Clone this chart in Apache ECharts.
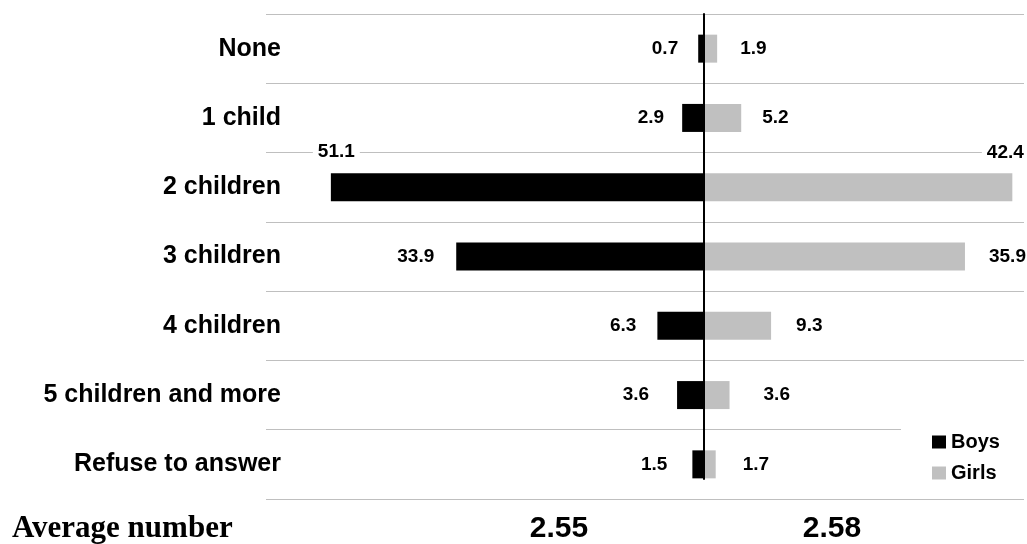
<!DOCTYPE html>
<html>
<head>
<meta charset="utf-8">
<script src="https://cdn.jsdelivr.net/npm/echarts@6/dist/echarts.min.js"></script>
<style>
  html, body { margin: 0; padding: 0; background: #fff; }
  #chart { width: 1027px; height: 544px; }
</style>
</head>
<body>
<div id="chart"></div>
<script>
// data
const categories = ['None', '1 child', '2 children', '3 children', '4 children', '5 children and more', 'Refuse to answer'];
const boys = [0.7, 2.9, 51.1, 33.9, 6.3, 3.6, 1.5];
const girls = [1.9, 5.2, 42.4, 35.9, 9.3, 3.6, 1.7];
const averageTitle = 'Average number';
const averageBoys = 2.55;
const averageGirls = 2.58;

// label gaps, px (hand placed in the original)
const boysGap = [20, 18, 0, 22, 21, 28, 25];
const girlsGap = [23, 21, 0, 24, 25, 34, 27];

const sans = '"Liberation Sans", Arial, sans-serif';
const serif = '"Liberation Serif", "Times New Roman", serif';
const valueLabel = { fontFamily: sans, fontWeight: 'bold', fontSize: 19, color: '#000' };

const chart = echarts.init(document.getElementById('chart'));

const boysData = boys.map((v, i) => {
  if (i === 2) {
    return { value: -v, label: { position: 'insideLeft', distance: 0, offset: [-18, -35.5], backgroundColor: '#fff', padding: [0, 5] } };
  }
  return { value: -v, label: { distance: boysGap[i] } };
});

const girlsData = girls.map((v, i) => {
  if (i === 2) {
    return { value: v, label: { position: 'insideRight', distance: 0, offset: [16.5, -34], backgroundColor: '#fff', padding: [0, 5] } };
  }
  return { value: v, label: { distance: girlsGap[i] } };
});

const option = {
  animation: false,
  backgroundColor: '#fff',
  grid: [
    { left: 266, right: 3, top: 14, bottom: 45, outerBoundsMode: 'none', containLabel: false },
    { left: 266, right: 3, top: 14, bottom: 65, outerBoundsMode: 'none', containLabel: false }
  ],
  legend: {
    data: ['Boys', 'Girls'],
    orient: 'vertical',
    left: 901,
    top: 426,
    padding: [6, 30, 6, 31],
    itemGap: 11,
    itemWidth: 14,
    itemHeight: 13,
    icon: 'rect',
    backgroundColor: '#fff',
    textStyle: { fontFamily: sans, fontWeight: 'bold', fontSize: 20, lineHeight: 20, color: '#000' }
  },
  xAxis: [
    { type: 'value', min: -60, max: 44, show: false },
    { type: 'value', gridIndex: 1, min: -60, max: 44, show: false }
  ],
  yAxis: [
    {
      type: 'category',
      data: categories,
      inverse: true,
      axisLine: { show: false },
      axisTick: { show: false },
      axisLabel: {
        margin: -15,
        fontFamily: sans,
        fontWeight: 'bold',
        fontSize: 25,
        color: '#000'
      },
      splitLine: { show: true, lineStyle: { color: '#bfbfbf', width: 1 } }
    },
    {
      // center line at zero
      type: 'value',
      gridIndex: 1,
      min: 0,
      max: 1,
      z: 5,
      axisLine: { show: true, onZero: true, lineStyle: { color: '#000', width: 2 } },
      axisTick: { show: false },
      axisLabel: { show: false },
      splitLine: { show: false }
    }
  ],
  series: [
    {
      name: 'Boys',
      type: 'bar',
      data: boysData,
      barWidth: 28,
      barGap: '-100%',
      itemStyle: { color: '#000' },
      label: {
        show: true,
        position: 'left',
        ...valueLabel,
        formatter: p => Math.abs(p.value).toFixed(1)
      }
    },
    {
      name: 'Girls',
      type: 'bar',
      data: girlsData,
      barWidth: 28,
      barGap: '-100%',
      itemStyle: { color: '#c0c0c0' },
      label: {
        show: true,
        position: 'right',
        ...valueLabel,
        formatter: p => p.value.toFixed(1)
      }
    },
    {
      type: 'line',
      xAxisIndex: 1,
      yAxisIndex: 1,
      data: [],
      silent: true
    }
  ],
  graphic: [
    {
      type: 'text',
      style: {
        x: 12, y: 529,
        text: averageTitle,
        font: 'bold 31px ' + serif,
        fill: '#000',
        align: 'left', verticalAlign: 'middle'
      }
    },
    {
      type: 'text',
      style: {
        x: 559, y: 529,
        text: averageBoys.toFixed(2),
        font: 'bold 30px ' + sans,
        fill: '#000',
        align: 'center', verticalAlign: 'middle'
      }
    },
    {
      type: 'text',
      style: {
        x: 832, y: 529,
        text: averageGirls.toFixed(2),
        font: 'bold 30px ' + sans,
        fill: '#000',
        align: 'center', verticalAlign: 'middle'
      }
    }
  ]
};

chart.setOption(option);
</script>
</body>
</html>
